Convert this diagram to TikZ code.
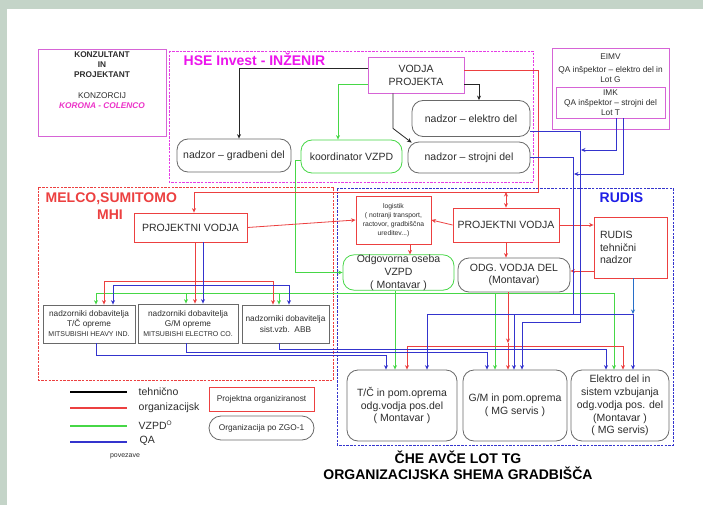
\documentclass[tikz,border=0pt]{standalone}
\usepackage{fontspec}
\setmainfont{Liberation Sans}
\usetikzlibrary{arrows.meta}
\definecolor{bgc}{RGB}{196,212,200}
\definecolor{mag}{RGB}{214,100,214}
\definecolor{magd}{RGB}{230,60,230}
\definecolor{magt}{RGB}{236,20,236}
\definecolor{kor}{RGB}{236,50,200}
\definecolor{rd}{RGB}{236,64,64}
\definecolor{gn}{RGB}{70,215,70}
\definecolor{bl}{RGB}{52,52,205}
\definecolor{blt}{RGB}{30,30,230}
\definecolor{tb}{RGB}{40,110,200}
\definecolor{gb}{RGB}{105,105,105}
\definecolor{tx}{RGB}{45,45,45}
\begin{document}
\begin{tikzpicture}[x=1pt,y=-1pt,line width=0.8pt,
  >={Stealth[length=4.5pt,width=4pt]},
  f105/.style={font=\fontsize{10.5}{12.8}\selectfont},
  f8/.style={font=\fontsize{8.3}{9.8}\selectfont},
  f7/.style={font=\fontsize{6.8}{9}\selectfont},
  ttl/.style={font=\fontsize{14}{16}\selectfont\bfseries},
  sz/.style 2 args={minimum width=#1pt,minimum height=#2pt},
  bx/.style={draw,inner sep=0pt,align=center,text=tx,line width=0.8pt},
  rbox/.style={bx,draw=rd},
  gbox/.style={bx,draw=gb,rounded corners=11pt},
  grbox/.style={bx,draw=gn,rounded corners=11pt},
  mbox/.style={bx,draw=mag},
  nbox/.style={bx,draw=gb},
  dashfr/.style={dash pattern=on 2.5pt off 1.2pt,line width=0.9pt},
  rw/.style={draw=rd},
  gw/.style={draw=gn},
  bw/.style={draw=bl},
  kw/.style={draw=black!85}
]
\useasboundingbox (0,0) rectangle (703,505);
\fill[white] (0,0) rectangle (703,505);
\fill[bgc] (0,0) rectangle (703,9);
\fill[bgc] (0,0) rectangle (7,505);

% frames
\draw[magd,dashfr] (169,51) rectangle (533,182);
\draw[rd,dashfr] (38,187) rectangle (333,380);
\draw[bl,dashfr] (337,188) rectangle (673,445);

% consultant
\node[mbox,sz={128}{87}] (konz) at (102,92.5) {};
\node[font=\fontsize{8.3}{10}\selectfont\bfseries,align=center,text=tx] (konzt) at (102,65) {KONZULTANT\\IN\\PROJEKTANT};
\node[f8,text=tx] (konzc) at (102,96) {KONZORCIJ};
\node[font=\fontsize{8.3}{10}\selectfont\bfseries\itshape,text=kor] (kor) at (102,106) {KORONA - COLENCO};

% titles
\node[ttl,text=magt,anchor=west] (hse) at (180,59) {HSE Invest - INŽENIR};
\node[ttl,text=rd,anchor=west] (melco) at (42,199) {MELCO,SUMITOMO};
\node[ttl,text=rd] (mhi) at (110,215) {MHI};
\node[ttl,text=blt,anchor=west] (rudis) at (596,198) {RUDIS};
\node[ttl,text=black] (t1) at (458,457) {ČHE AVČE LOT TG};
\node[ttl,text=black] (t2) at (458,473) {ORGANIZACIJSKA SHEMA GRADBIŠČA};

% HSE nodes
\node[mbox,sz={96}{36},f105] (vodja) at (416,75) {VODJA\\PROJEKTA};
\node[gbox,sz={114}{33},f105] (gradb) at (234,155.5) {nadzor – gradbeni del};
\node[grbox,sz={101}{33},f105] (koord) at (351.5,156.5) {koordinator VZPD};
\node[gbox,sz={118}{36},f105] (elek) at (471,118.5) {nadzor – elektro del};
\node[gbox,sz={122}{31},f105] (stroj) at (469,157.5) {nadzor – strojni del};

% EIMV
\node[mbox,sz={117}{81}] (eimv) at (610.5,88.5) {};
\node[f8,text=tx] (eimvt) at (610.5,57) {EIMV};
\node[f8,text=tx,align=center,font=\fontsize{8.3}{9.5}\selectfont] (eimvq) at (610.5,74.5) {QA inšpektor – elektro del in\\Lot G};
\node[mbox,sz={109}{31},f8,font=\fontsize{8.3}{10}\selectfont] (imk) at (610.5,102.5) {IMK\\QA inšpektor – strojni del\\Lot T};

% MELCO / RUDIS nodes
\node[rbox,sz={113}{29},f105] (mpv) at (190.5,227.5) {PROJEKTNI VODJA};
\node[rbox,sz={75}{48},f7] (logi) at (393.5,220) {logistik\\( notranji transport,\\ractovor, gradbiščna\\ureditev...)};
\node[rbox,sz={106}{34},f105] (rpv) at (506,225) {PROJEKTNI VODJA};
\node[rbox,text width=61pt,inner xsep=6pt,minimum height=61pt,align=left,f105] (rtn) at (630.5,247.5) {RUDIS\\tehnični\\nadzor};
\node[grbox,sz={111}{35},f105] (odgo) at (398.5,272.5) {Odgovorna oseba\\VZPD\\( Montavar )};
\node[gbox,sz={112}{34},f105] (odg) at (514,275) {ODG. VODJA DEL\\(Montavar)};

\node[nbox,sz={92}{38},f8,font=\fontsize{8.3}{10}\selectfont] (n1) at (89,324) {nadzorniki dobavitelja\\T/Č opreme\\{\fontsize{7}{10}\selectfont MITSUBISHI HEAVY IND.}};
\node[nbox,sz={100}{39},f8,font=\fontsize{8.3}{10}\selectfont] (n2) at (188,323.5) {nadzorniki dobavitelja\\G/M opreme\\{\fontsize{7}{10}\selectfont MITSUBISHI ELECTRO CO.}};
\node[nbox,sz={87}{38},f8,font=\fontsize{8.3}{11}\selectfont] (n3) at (285.5,324) {nadzorniki dobavitelja\\sist.vzb.\ \ ABB};

\node[gbox,sz={110}{71},f105] (tc) at (402,405.5) {T/Č in pom.oprema\\odg.vodja pos.del\\( Montavar )};
\node[gbox,sz={104}{71},f105] (gm) at (515,405.5) {G/M in pom.oprema\\( MG servis )};
\node[gbox,sz={98}{71},f105] (el) at (620,405.5) {Elektro del in\\sistem vzbujanja\\odg.vodja pos. del\\(Montavar )\\( MG servis)};

% legend
\draw[black,line width=1.2pt] (70,392) -- (127,392);
\draw[rd,line width=1.2pt] (70,408) -- (127,408);
\draw[gn,line width=1.2pt] (70,426) -- (127,426);
\draw[bl,line width=1.2pt] (70,442) -- (127,442);
\node[f105,anchor=west,text=tx] (lg1) at (135,392) {tehnično};
\node[f105,anchor=west,text=tx] (lg2) at (135,408) {organizacijsk};
\node[f105,anchor=west,text=tx] (lg3) at (135,425) {VZPD\raisebox{4pt}{\fontsize{6.5}{6.5}\selectfont O}};
\node[f105,anchor=west,text=tx] (lg4) at (136,441) {QA};
\node[font=\fontsize{7}{8}\selectfont,text=tx] (lg5) at (125,456) {povezave};
\node[rbox,sz={105}{24},f8] (lp) at (261.5,399) {Projektna organiziranost};
\node[bx,draw=gb,rounded corners=12pt,sz={105}{24},f8] (lz) at (261.5,428) {Organizacija po ZGO-1};

% coordinates
\coordinate (rc) at (538,192);
\coordinate (rb) at (506,192);
\coordinate (q1) at (581,150);
\coordinate (q2) at (574,174);
\coordinate (b580) at (580,322);
\coordinate (b522) at (522,322);
\coordinate (b573) at (573,314);
\coordinate (b427) at (427,314);
\coordinate (b514) at (514,314);
\coordinate (b633) at (633,314);
\coordinate (rj) at (195,281);
\coordinate (bj) at (203,285);
\coordinate (gL) at (96,293);
\coordinate (g2) at (186,293);
\coordinate (g3) at (279,293);
\coordinate (g495) at (495,293);
\coordinate (gR) at (614,293);
\coordinate (m1) at (386,355);
\coordinate (m2) at (487,352);
\coordinate (m3) at (606,349);
\coordinate (r508) at (508,343);
\coordinate (rl) at (407,346);
\coordinate (rr) at (623,346);
\coordinate (kg) at (295,272.5);

% black (tehnicno)
\draw[kw,->] ([yshift=7pt]vodja.west) -| ([xshift=5pt]gradb.north);
\draw[kw,->] ([yshift=-9pt]vodja.east) -| ([xshift=8pt]elek.north);
\draw[kw,->] ([xshift=-23pt]vodja.south) -- ++(0,35) -- ([xshift=4pt,yshift=-1pt]stroj.north west);

% green
\draw[gw,->] ([yshift=-9pt]vodja.west) -| ([xshift=-13.5pt]koord.north);
\draw[gw,->] ([yshift=-3.5pt]koord.west) -| (kg) -- (odgo.west);
\draw[gw,->] ([xshift=-3.5pt]odgo.south) -- ([xshift=-7pt]tc.north);
\draw[gw] (gL) -- (gR);
\draw[gw,->] (gL) -- ([xshift=7pt]n1.north);
\draw[gw,->] (g2) -- ([xshift=-2pt]n2.north);
\draw[gw,->] (g3) -- ([xshift=-6.5pt]n3.north);
\draw[gw,->] (g495) -- ([xshift=-20pt]gm.north);
\draw[gw,->] (gR) -- ([xshift=-6pt]el.north);

% red
\draw[rw,->] ([yshift=5pt]vodja.east) -| (rc) -| ([xshift=3.5pt]mpv.north);
\draw[rw,<->] (rb) -- (rpv.north);
\draw[rw,->] (mpv.east) -- (logi.west);
\draw[rw,->] (rpv.west) -- (logi.east);
\draw[rw,->] (rpv.east) -- (rtn.west |- rpv.east);
\draw[rw,->] ([xshift=16.5pt]logi.south) -- ([xshift=11.5pt]odgo.north);
\draw[rw,->] (rpv.south) -- ([xshift=-8pt]odg.north);
\draw[rw,->] ([yshift=-23.5pt]rtn.west) -- ([yshift=-23.5pt]rtn.west -| odg.east);
\draw[rw,->] ([xshift=4.5pt]mpv.south) -- ([xshift=7pt]n2.north);
\draw[rw,->] (rj) -| ([xshift=15pt]n1.north);
\draw[rw,->] (rj) -| ([xshift=-12.5pt]n3.north);
\draw[rw,->] ([xshift=-6pt]odg.south) -- (r508);
\draw[rw,->] (r508) -- ([xshift=-7pt]gm.north);
\draw[rw] (rl) -- (rr);
\draw[rw,->] (rl) -- ([xshift=5pt]tc.north);
\draw[rw,->] (rr) -- ([xshift=3pt]el.north);

% blue (QA)
\draw[bw,->] ([xshift=12.5pt]mpv.south) -- ([xshift=15pt]n2.north);
\draw[bw,->] (bj) -| ([xshift=24pt]n1.north);
\draw[bw,->] (bj) -| ([xshift=3.5pt]n3.north);
\draw[bw] ([yshift=-13pt]elek.east) -| (b580) -- (b522);
\draw[bw,->] (b522) -- ([xshift=7pt]gm.north);
\draw[bw] (stroj.east) -| (b573);
\draw[bw] (b427) -- (b633);
\draw[bw,->] (b427) -- ([xshift=25pt]tc.north);
\draw[bw,->] (b514) -- ([xshift=-1pt]gm.north);
\draw[bw,->] (b633) -- ([xshift=13pt]el.north);
\draw[draw=tb,->] ([xshift=2.5pt]rtn.south) -- (b633);
\draw[bw,->] ([xshift=5.5pt]imk.south) |- (q1);
\draw[bw,->] ([xshift=12.5pt]imk.south) |- (q2);
\draw[bw,->] ([xshift=7pt]n1.south) |- (m1) -- ([xshift=-16pt]tc.north);
\draw[bw,->] ([xshift=-2pt]n2.south) |- (m2) -- ([xshift=-28pt]gm.north);
\draw[bw,->] ([xshift=-6.5pt]n3.south) |- (m3) -- ([xshift=-14pt]el.north);
\end{tikzpicture}
\end{document}
